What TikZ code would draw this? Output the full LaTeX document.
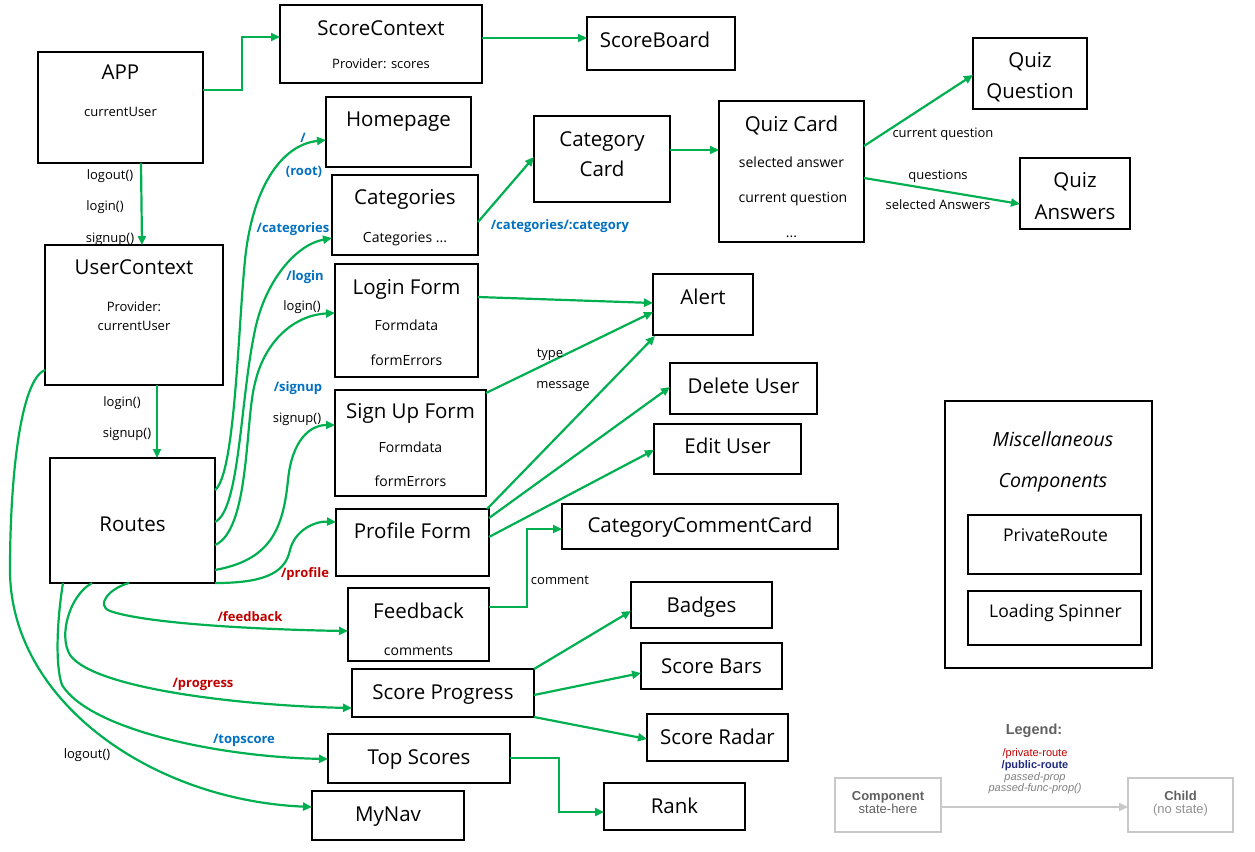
\documentclass[tikz,border=0pt]{standalone}
\usepackage{fontspec}
\setmainfont{Open Sans}
\newfontfamily\legfont{Liberation Sans}
\usetikzlibrary{arrows.meta}
\definecolor{gline}{HTML}{00B050}
\definecolor{routeblue}{HTML}{0070C0}
\definecolor{routered}{HTML}{C00000}
\definecolor{legnavy}{HTML}{1F2A80}
\definecolor{leggray}{HTML}{606060}
\definecolor{legbox}{HTML}{C8C8C8}
\newcommand{\bx}[6][]{\node[box,#1,minimum width={(#5-#3)*1pt},minimum height={(#6-#4)*1pt}] (#2) at ({(#3+#5)/2},{(#4+#6)/2}) {};}
\begin{document}
\begin{tikzpicture}[x=1pt,y=-1pt,
  box/.style={draw=black,line width=1.1pt,inner sep=0pt,outer sep=0pt},
  txt/.style={inner sep=0pt,text height=0.72em,text depth=0.1em,align=center},
  ttl/.style={txt,yshift=-4pt,font=\fontsize{20.5}{24}\selectfont},
  sub/.style={txt,yshift=-2pt,font=\fontsize{14}{17}\selectfont},
  sml/.style={txt,yshift=-2pt,font=\fontsize{13}{16}\selectfont},
  lbl/.style={txt,yshift=-2pt,font=\fontsize{13}{16}\selectfont},
  rb/.style={txt,yshift=-2pt,font=\bfseries\fontsize{13}{16}\selectfont,text=routeblue},
  rr/.style={txt,yshift=-2pt,font=\bfseries\fontsize{13}{16}\selectfont,text=routered},
  mis/.style={txt,yshift=-3pt},
  arr/.style={draw=gline,line width=2.2pt,-{Triangle[length=9pt,width=8pt]}},
  lg/.style={txt,font=\legfont\fontsize{11}{13}\selectfont},
]
\useasboundingbox (0,0) rectangle (1255,851);

% ---------- boxes ----------
\bx{app}{38}{52}{203}{163}
\bx{sc}{280}{5}{482}{83}
\bx{sb}{587}{17}{735}{70}
\bx{hp}{326}{97}{471}{167}
\bx{cat}{332}{175}{478}{255}
\bx{cc}{534}{116}{670}{202}
\bx{qc}{719}{101}{864}{242}
\bx{qq}{973}{38}{1087}{109}
\bx{qa}{1020}{158}{1130}{229}
\bx{uc}{45}{245}{223}{385}
\bx{rt}{50}{458}{215}{583}
\bx{lf}{335}{264}{478}{377}
\bx{su}{335}{390}{486}{496}
\bx{pf}{336}{509}{489}{576}
\bx{al}{653}{274}{753}{335}
\bx{du}{670}{363}{817}{414}
\bx{eu}{654}{424}{801}{474}
\bx{ccc}{562}{504}{838}{549}
\bx{fb}{348}{588}{489}{661}
\bx{bd}{631}{582}{772}{628}
\bx{sbar}{641}{643}{782}{689}
\bx{sp}{352}{669}{534}{717}
\bx{sr}{647}{714}{788}{761}
\bx{ts}{328}{734}{510}{783}
\bx{rk}{604}{783}{745}{830}
\bx{mn}{312}{791}{464}{840}
\bx{misc}{945}{401}{1152}{668}
\bx{prv}{968}{515}{1141}{574}
\bx{ls}{968}{591}{1141}{645}
\bx[draw=legbox]{comp}{835}{778}{941}{832}
\bx[draw=legbox]{child}{1128}{778}{1233}{832}

% ---------- box texts ----------
\node[ttl] (app-t) at (120.5,72) {APP};
\node[sml] (app-s) at (120.5,111) {currentUser};
\node[ttl] (sc-t) at (381,28) {ScoreContext};
\node[sml] (sc-s) at (381,63) {Provider: scores};
\node[ttl] (sb-t) at (655,40) {ScoreBoard};
\node[ttl] (hp-t) at (398.5,119) {Homepage};
\node[ttl] (cat-t) at (405,197) {Categories};
\node[sub] (cat-s) at (405,237) {Categories ...};
\node[ttl] (cc-t1) at (602,139) {Category};
\node[ttl] (cc-t2) at (602,169) {Card};
\node[ttl] (qc-t) at (791.5,124) {Quiz Card};
\node[sub] (qc-s1) at (791.5,162) {selected answer};
\node[sub] (qc-s2) at (793,197) {current question};
\node[sub] (qc-s3) at (791.5,232) {...};
\node[ttl] (qq-t1) at (1030,60) {Quiz};
\node[ttl] (qq-t2) at (1030,91) {Question};
\node[ttl] (qa-t1) at (1075,180) {Quiz};
\node[ttl] (qa-t2) at (1075,212) {Answers};
\node[ttl] (uc-t) at (134,267) {UserContext};
\node[sml] (uc-s1) at (134,306) {Provider:};
\node[sml] (uc-s2) at (134,325) {currentUser};
\node[ttl] (rt-t) at (132.5,524) {Routes};
\node[ttl] (lf-t) at (406.5,287) {Login Form};
\node[sub] (lf-s1) at (406.5,325) {Formdata};
\node[sub] (lf-s2) at (406.5,360) {formErrors};
\node[ttl] (su-t) at (410.5,411) {Sign Up Form};
\node[sub] (su-s1) at (410.5,447) {Formdata};
\node[sub] (su-s2) at (410.5,481) {formErrors};
\node[ttl] (pf-t) at (412.5,531) {Profile Form};
\node[ttl] (al-t) at (703,297) {Alert};
\node[ttl] (du-t) at (743.5,386) {Delete User};
\node[ttl] (eu-t) at (727.5,446) {Edit User};
\node[ttl] (ccc-t) at (700,525) {CategoryCommentCard};
\node[ttl] (fb-t) at (418.5,611) {Feedback};
\node[sub] (fb-s) at (418.5,650) {comments};
\node[ttl] (bd-t) at (701.5,605) {Badges};
\node[ttl] (sbar-t) at (711.5,666) {Score Bars};
\node[ttl] (sp-t) at (443,692) {Score Progress};
\node[ttl] (sr-t) at (717.5,737) {Score Radar};
\node[ttl] (ts-t) at (419,757) {Top Scores};
\node[ttl] (rk-t) at (674.5,806) {Rank};
\node[ttl] (mn-t) at (388,814) {MyNav};
\node[mis,font=\itshape\fontsize{19.5}{23}\selectfont] (misc-t1) at (1053,440) {Miscellaneous};
\node[mis,font=\itshape\fontsize{19.5}{23}\selectfont] (misc-t2) at (1053,481) {Components};
\node[mis,font=\fontsize{17.5}{21}\selectfont] (prv-t) at (1055.5,535) {PrivateRoute};
\node[mis,font=\fontsize{17.5}{21}\selectfont] (ls-t) at (1055.5,611) {Loading Spinner};

% ---------- connectors ----------
\draw[arr] ([yshift=17.5pt]app.east) -- ++(39,0) |- ([yshift=7pt]sc.west);
\draw[arr] ([yshift=6pt]sc.east) -- ([yshift=5.5pt]sb.west);
\draw[arr] ([xshift=20.5pt]app.south) -- ([xshift=8pt]uc.north);
\draw[arr] ([xshift=23pt]uc.south) -- ([xshift=24.5pt]rt.north);
\draw[arr] ([yshift=-7pt]cat.east) -- ([yshift=2pt]cc.west);
\draw[arr] ([yshift=9pt]cc.east) -- ([yshift=21.5pt]qc.west);
\draw[arr] ([yshift=25.5pt]qc.east) -- ([yshift=-1.5pt]qq.west);
\draw[arr] ([yshift=-6.5pt]qc.east) -- ([yshift=-10.5pt]qa.west);
\draw[arr] ([yshift=23.5pt]lf.east) -- ([yshift=1.5pt]al.west);
\draw[arr] ([yshift=50pt]su.east) -- ([yshift=-7.5pt]al.west);
\draw[arr] ([xshift=-2pt]pf.north east) -- ([xshift=2pt,yshift=-1pt]al.south west);
\draw[arr] ([yshift=24.5pt]pf.east) -- ([yshift=1.5pt]du.west);
\draw[arr] ([yshift=5.5pt]pf.east) -- ([yshift=-1pt]eu.west);
\draw[arr] ([yshift=17.5pt]fb.east) -- ++(38,0) |- ([yshift=-2.5pt]ccc.west);
\draw[arr] (sp.north east) -- ([yshift=-6pt]bd.west);
\draw[arr] ([yshift=-2pt]sp.east) -- ([yshift=-7pt]sbar.west);
\draw[arr] (sp.south east) -- ([yshift=-1.5pt]sr.west);
\draw[arr] ([yshift=0.5pt]ts.east) -- ++(49,0) |- ([yshift=-5.5pt]rk.west);

% routes (right side)
\draw[arr] ([yshift=30.5pt]rt.east) .. controls (235,475) and (238,330) .. (245,260)
  .. controls (252,190) and (280,145) .. ([yshift=-8pt]hp.west);
\draw[arr] ([yshift=-1.5pt]rt.east) .. controls (240,510) and (240,400) .. (255,330)
  .. controls (265,282) and (295,245) .. ([yshift=-23pt]cat.west);
\draw[arr] ([yshift=-24.5pt]rt.east) .. controls (250,530) and (245,420) .. (255,383)
  .. controls (265,340) and (295,315) .. ([yshift=7.5pt]lf.west);
\draw[arr] ([yshift=-49.5pt]rt.east) .. controls (270,560) and (283,530) .. (288,480)
  .. controls (292,440) and (310,425) .. ([yshift=18pt]su.west);
\draw[arr] (rt.south east) .. controls (260,583) and (285,575) .. (290,550)
  .. controls (295,530) and (315,521) .. ([yshift=20.5pt]pf.west);
% routes (bottom)
\draw[arr] ([xshift=-3.5pt]rt.south) .. controls (110,588) and (95,605) .. (110,611)
  .. controls (150,625) and (280,630) .. ([yshift=-6.5pt]fb.west);
\draw[arr] ([xshift=-40.5pt]rt.south) .. controls (70,595) and (58,635) .. (70,655)
  .. controls (95,690) and (250,706) .. ([yshift=-15pt]sp.west);
\draw[arr] ([xshift=-69.5pt]rt.south) .. controls (57,620) and (55,665) .. (62,685)
  .. controls (90,730) and (220,757) .. ([yshift=-0.5pt]ts.west);
\draw[arr] ([yshift=-55pt]uc.west) .. controls (20,380) and (10,480) .. (10,570)
  .. controls (10,700) and (150,800) .. ([yshift=8.5pt]mn.west);

% ---------- labels ----------
\node[lbl] (l-lo1) at (110,174) {logout()};
\node[lbl] (l-li1) at (105,205) {login()};
\node[lbl] (l-su1) at (110,237) {signup()};
\node[lbl] (l-li2) at (122,401) {login()};
\node[lbl] (l-su2) at (127,432) {signup()};
\node[rb] (l-root1) at (303,137) {/};
\node[rb] (l-root2) at (304,170) {(root)};
\node[rb] (l-cat) at (293,227) {/categories};
\node[rb] (l-login) at (305,275) {/login};
\node[lbl] (l-li3) at (302,305) {login()};
\node[rb] (l-signup) at (298,386) {/signup};
\node[lbl] (l-su3) at (297,417) {signup()};
\node[rr] (l-profile) at (305,572) {/profile};
\node[rb] (l-catcat) at (560,224) {/categories/:category};
\node[lbl] (l-cq) at (943,132) {current question};
\node[lbl] (l-q) at (938,174) {questions};
\node[lbl] (l-sa) at (938,204) {selected Answers};
\node[lbl] (l-type) at (550,352) {type};
\node[lbl] (l-msg) at (563,383) {message};
\node[lbl] (l-com) at (560,579) {comment};
\node[rr] (l-fb) at (250,616) {/feedback};
\node[rr] (l-pr) at (203,682) {/progress};
\node[rb] (l-ts) at (244,738) {/topscore};
\node[lbl] (l-lo2) at (87,753) {logout()};

% ---------- legend ----------
\node[txt,font=\legfont\bfseries\fontsize{14.5}{17}\selectfont,text=leggray] (leg-t) at (1034,731) {Legend:};
\node[lg,text=routered] (leg-1) at (1035,753) {/private-route};
\node[lg,text=legnavy,font=\legfont\bfseries\fontsize{11}{13}\selectfont] (leg-2) at (1035,765) {/public-route};
\node[lg,text=leggray!80,font=\legfont\itshape\fontsize{11}{13}\selectfont] (leg-3) at (1035,777) {passed-prop};
\node[lg,text=leggray!80,font=\legfont\itshape\fontsize{11}{13}\selectfont] (leg-4) at (1035,788) {passed-func-prop()};
\node[txt,font=\legfont\bfseries\fontsize{13}{15}\selectfont,text=leggray] (comp-t) at (888,797) {Component};
\node[txt,font=\legfont\fontsize{13}{15}\selectfont,text=leggray] (comp-s) at (888,810) {state-here};
\node[txt,font=\legfont\bfseries\fontsize{13}{15}\selectfont,text=leggray] (child-t) at (1180.5,797) {Child};
\node[txt,font=\legfont\fontsize{13}{15}\selectfont,text=leggray!70] (child-s) at (1180.5,810) {(no state)};
\draw[draw=legbox,line width=1.5pt,-{Triangle[length=9pt,width=8pt]}] ([yshift=-2pt]comp.east) -- ([yshift=-2pt]child.west);
\end{tikzpicture}
\end{document}
